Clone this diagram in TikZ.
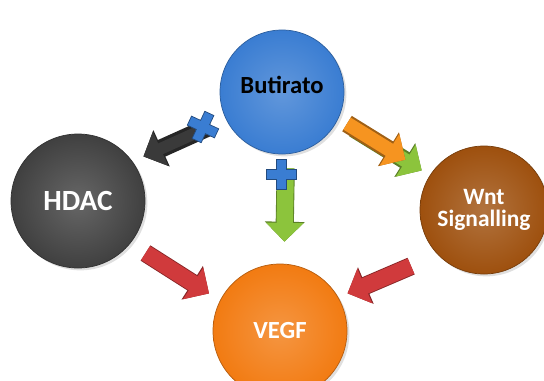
\documentclass[tikz,border=0pt]{standalone}
\usepackage{fontspec}
\setmainfont{Carlito}
\usetikzlibrary{arrows.meta,shadows,calc}
\definecolor{butblue}{RGB}{58,125,210}
\definecolor{hdacgray}{RGB}{64,64,64}
\definecolor{wntbrown}{RGB}{158,80,14}
\definecolor{vegforange}{RGB}{242,123,18}
\definecolor{arrred}{RGB}{208,58,60}
\definecolor{arrgreen}{RGB}{140,196,60}
\definecolor{arrorange}{RGB}{246,148,32}
\definecolor{arrgray}{RGB}{58,58,58}
\tikzset{
    bubble/.style = {circle, draw=#1!75!black, line width=0.6pt,
        inner color=#1!80!white, outer color=#1, text=white,
        align=center, inner sep=0pt,
        drop shadow={opacity=0.25, shadow xshift=2pt, shadow yshift=-2pt}},
    flow/.style = {draw=#1, line width=14pt,
        -{Triangle[length=16pt,width=31pt]},
        preaction={draw=#1!65!black, line width=15.5pt,
            -{Triangle[length=17pt,width=33pt]}}},
    plussign/.pic = {
        \filldraw[fill=butblue, draw=butblue!60!black, line width=0.6pt]
            (-5,-15) -- (5,-15) -- (5,-5) -- (15,-5) -- (15,5) -- (5,5)
            -- (5,15) -- (-5,15) -- (-5,5) -- (-15,5) -- (-15,-5) -- (-5,-5) -- cycle;
    }
}
\begin{document}
\begin{tikzpicture}[x=0.03cm, y=0.03cm]
    \useasboundingbox (0,0) rectangle (544,380);
    % circles
    \node [bubble=butblue, minimum size=3.72cm, text=black, text depth=12pt,
        font=\bfseries\fontsize{21}{24}\selectfont] (but) at (282,288) {Butirato};
    \node [bubble=hdacgray, minimum size=4.02cm,
        font=\bfseries\fontsize{25}{28}\selectfont] (hdac) at (78,179) {HDAC};
    \node [bubble=wntbrown, minimum size=3.84cm,
        font=\bfseries\fontsize{20}{19}\selectfont] (wnt) at (484,170) {Wnt\\ Signalling};
    \node [bubble=vegforange, minimum size=4.02cm,
        font=\bfseries\fontsize{21}{24}\selectfont] (vegf) at (280,49) {VEGF};
    % arrows
    \draw [flow=arrgray, line width=10pt, shorten <=20*0.03cm, shorten >=12*0.03cm]
        (but.206) -- (hdac.36);
    \draw [flow=arrgreen, line width=12pt, shorten <=10*0.03cm, shorten >=18*0.03cm]
        ([shift={(7,-5)}]but.-25) -- ([shift={(7,-5)}]wnt.147);
    \draw [flow=arrorange, line width=12pt, shorten <=10*0.03cm, shorten >=29*0.03cm]
        (but.-25) -- (wnt.147);
    \draw [flow=arrgreen, shorten <=14*0.03cm, shorten >=22*0.03cm]
        ([xshift=4*0.03cm]but.south) -- ([xshift=4*0.03cm]vegf.north);
    \draw [flow=arrred, shorten <=18*0.03cm, shorten >=13*0.03cm]
        (hdac.-39) -- (vegf.153);
    \draw [flow=arrred, shorten <=29*0.03cm, shorten >=10*0.03cm]
        (wnt.224) -- (vegf.30);
    % plus signs
    \pic [rotate=-25] at (203,253) {plussign};
    \pic at (281,206) {plussign};
\end{tikzpicture}
\end{document}
